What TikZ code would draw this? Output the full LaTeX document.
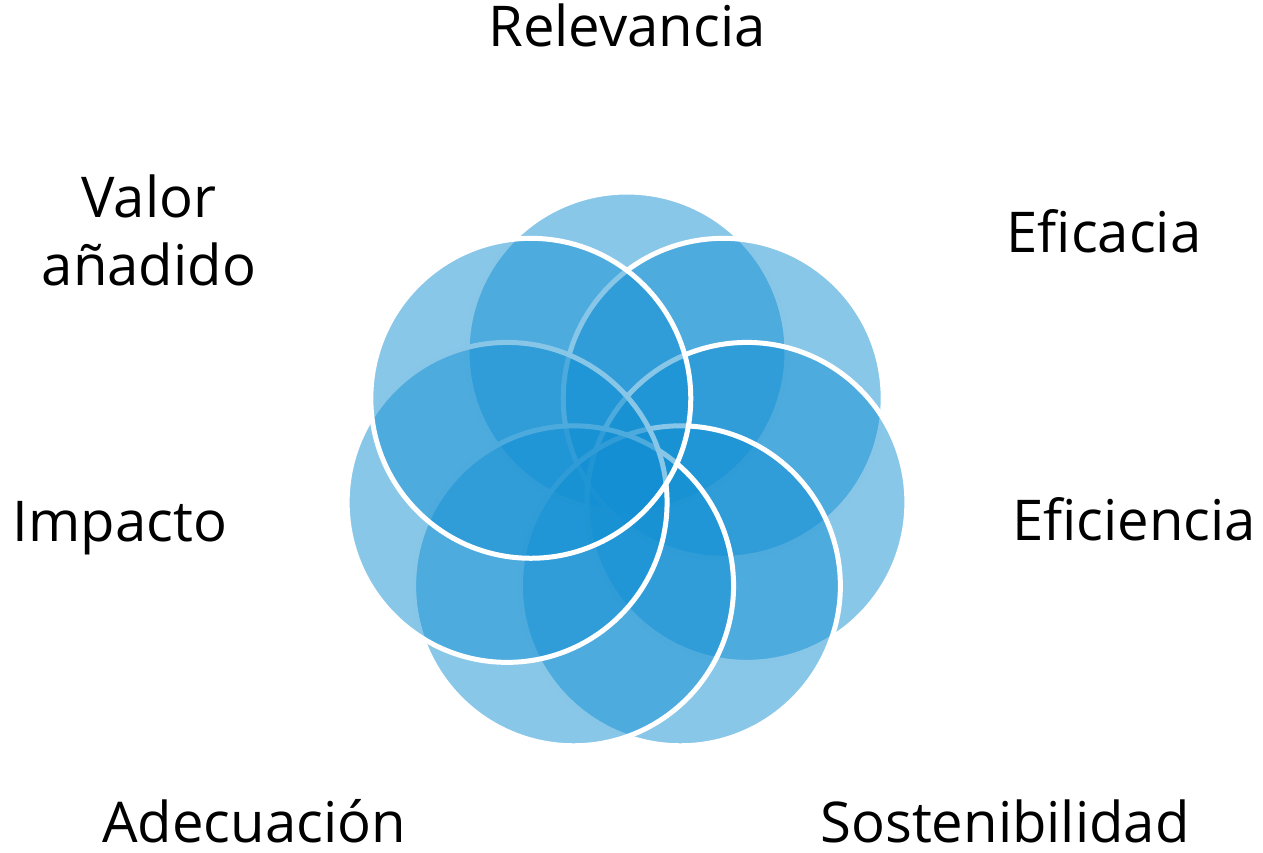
\documentclass[tikz,border=0pt]{standalone}
\usepackage{fontspec}
\setmainfont{Open Sans}
\usepackage{tikz}
\usetikzlibrary{positioning}
\definecolor{petalblue}{RGB}{19,143,211}

\begin{document}
\begin{tikzpicture}[x=0.02cm, y=0.02cm, petal node/.style={circle,draw=white,line width=0.1cm,fill=petalblue,fill opacity=0.5,minimum size=6.4cm,inner sep=0pt}, crit node/.style={font=\fontsize{32pt}{39pt}\selectfont,anchor=base,align=center}]
\useasboundingbox (0,0) rectangle (1263,852);
\begin{scope}
\node[petal node] (p1) at (627,500) {};
\node[petal node] (p2) at (723.2,453.7) {};
\node[petal node] (p3) at (746.9,349.6) {};
\node[petal node] (p4) at (680.4,266.2) {};
\node[petal node] (p5) at (573.6,266.2) {};
\node[petal node] (p6) at (507.1,349.6) {};
\node[petal node] (p7) at (530.8,453.7) {};
\end{scope}
\begin{scope}
\node[crit node] (l1) at (627,805) {Relevancia};
\node[crit node] (l2) at (1104,599) {Eficacia};
\node[crit node] (l3) at (1134,312) {Eficiencia};
\node[crit node] (l4) at (1005,10) {Sostenibilidad};
\node[crit node] (l5) at (254,10) {Adecuación};
\node[crit node] (l6) at (120,311) {Impacto};
\node[crit node] (l7) at (149,566) {Valor\\añadido};
\end{scope}
\end{tikzpicture}
\end{document}
